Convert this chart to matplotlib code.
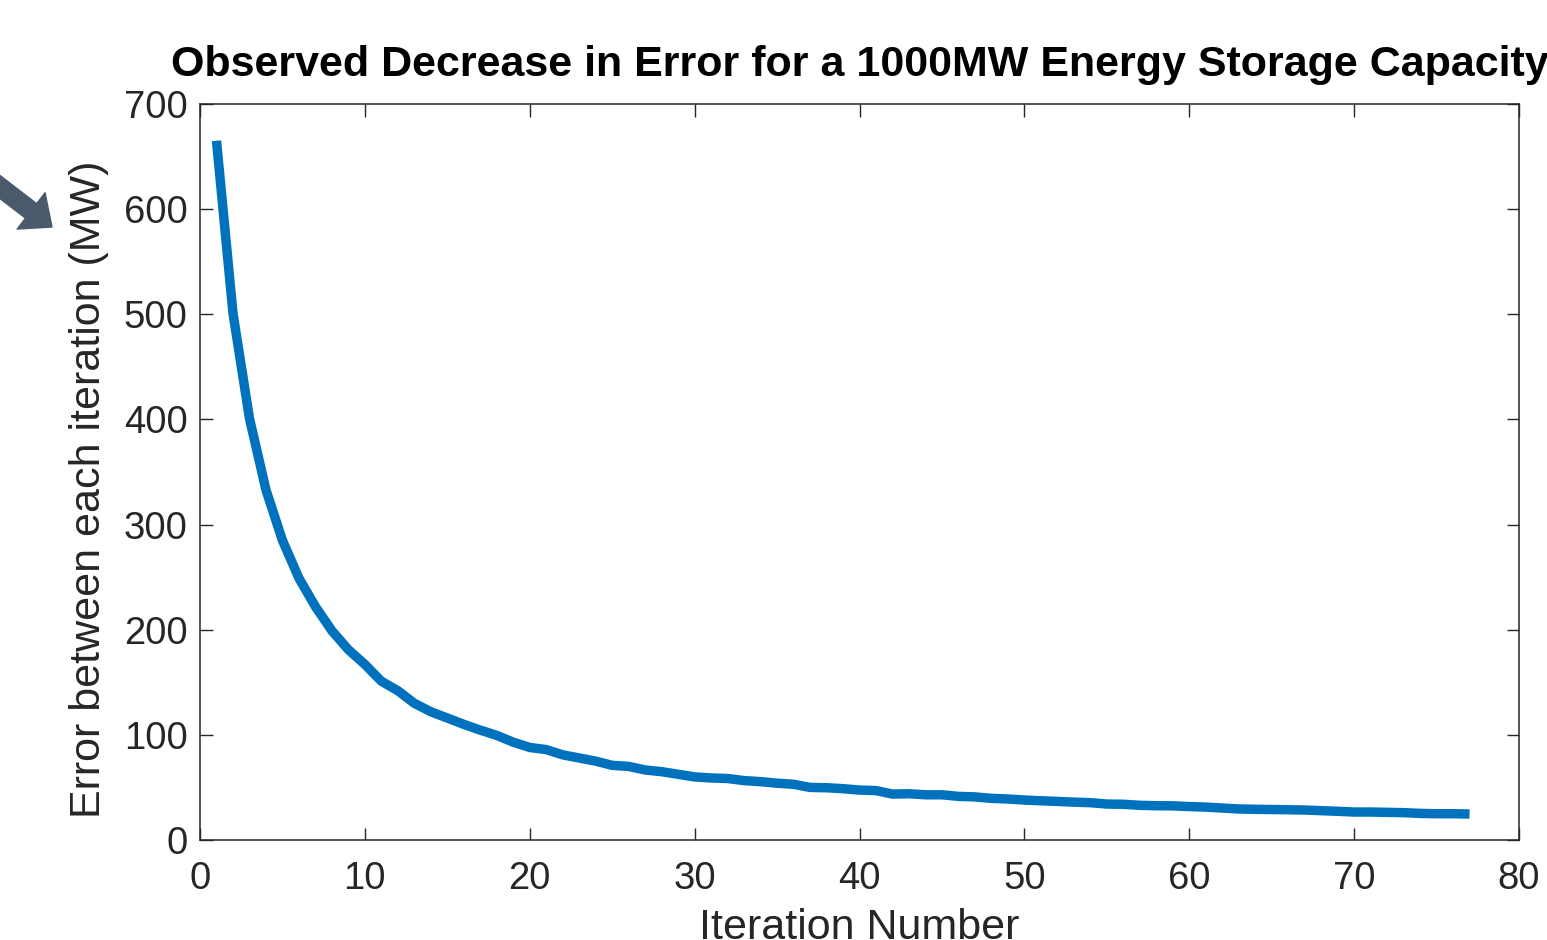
import matplotlib
matplotlib.use("Agg")
import matplotlib.pyplot as plt
import numpy as np

plt.rcParams['font.family'] = ['Liberation Sans', 'DejaVu Sans']

iterations = list(range(1, 78))
error_mw = [665, 501, 401, 333, 285, 249, 222, 199, 181, 167,
            151, 142, 130, 122, 116, 110, 104.5, 99.5, 93, 88,
            86, 81, 78, 75, 71, 70, 66.6, 65, 62.5, 60,
            59, 58.5, 56.5, 55.5, 54, 53, 50, 49.7, 48.8, 47.5,
            47, 43.7, 44, 43, 43, 41.5, 41, 39.6, 39, 38,
            37.3, 36.7, 36, 35.5, 34.2, 34, 33, 32.6, 32.5, 31.8,
            31.3, 30.4, 29.5, 29.2, 29, 28.8, 28.5, 27.9, 27.3, 26.6,
            26.6, 26.3, 26, 25.3, 25, 25, 24.7]
xticks = [0, 10, 20, 30, 40, 50, 60, 70, 80]
yticks = [0, 100, 200, 300, 400, 500, 600, 700]

fig = plt.figure(figsize=(15.47, 9.40), dpi=100)
ax = fig.add_axes([200/1547, 100/940, 1319/1547, 736/940])

ax.plot(iterations, error_mw, color='#0072BD', linewidth=6.8, solid_capstyle='butt')

ax.set_xlim(0, 80)
ax.set_ylim(0, 700)
ax.set_xticks(xticks)
ax.set_yticks(yticks)

axcol = '#262626'
for s in ax.spines.values():
    s.set_color(axcol)
    s.set_linewidth(1.1)
ax.tick_params(direction='in', length=9, width=1.0, color=axcol,
               labelcolor=axcol, labelsize=27.5, top=True, right=True)
ax.tick_params(axis='x', pad=15)
ax.tick_params(axis='y', pad=9)

ax.set_xlabel('Iteration Number', fontsize=31, color=axcol, labelpad=8)
ax.set_ylabel('Error between each iteration (MW)', fontsize=31, color=axcol)
ax.yaxis.set_label_coords(-0.069, 0.476)
ax.set_title('Observed Decrease in Error for a 1000MW Energy Storage Capacity',
             fontsize=31, fontweight='bold', color='black', pad=20)

# arrow pointing at the y label
ax.annotate('', xy=(52/1547, 1 - 227/940), xytext=(-30/1547, 1 - 164/940),
            xycoords='figure fraction', textcoords='figure fraction',
            arrowprops=dict(arrowstyle='simple,head_width=1.65,head_length=0.95,tail_width=0.66',
                            color='#4a596b', mutation_scale=20, shrinkA=0, shrinkB=0),
            annotation_clip=False)

fig.savefig('out.png', dpi=100)
